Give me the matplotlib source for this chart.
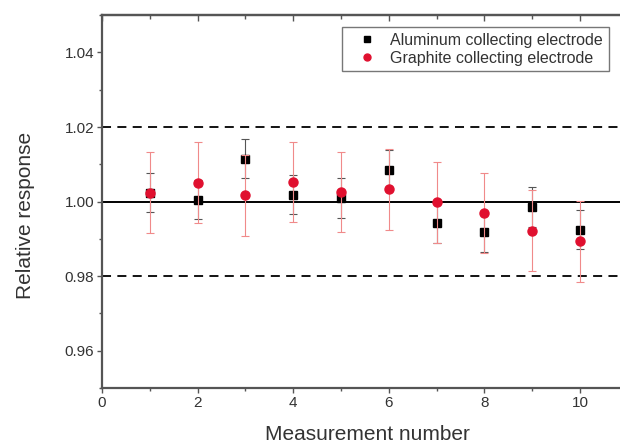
import numpy as np
import matplotlib
matplotlib.use("Agg")
import matplotlib.pyplot as plt
from matplotlib.ticker import MultipleLocator, FormatStrFormatter
from matplotlib.lines import Line2D

plt.rcParams['font.family'] = ['Liberation Sans', 'DejaVu Sans']

measurement = [1, 2, 3, 4, 5, 6, 7, 8, 9, 10]
aluminum = [1.0024, 1.0005, 1.0115, 1.0019, 1.0010, 1.0085, 0.9943, 0.9918, 0.9985, 0.9925]
aluminum_err = [0.0053, 0.0053, 0.0053, 0.0053, 0.0053, 0.0053, 0.0053, 0.0053, 0.0053, 0.0053]
graphite = [1.0024, 1.0051, 1.0017, 1.0053, 1.0026, 1.0033, 0.9998, 0.9969, 0.9922, 0.9893]
graphite_err = [0.0108, 0.0108, 0.0108, 0.0108, 0.0108, 0.0108, 0.0108, 0.0108, 0.0108, 0.0108]
series_names = ['Aluminum collecting electrode', 'Graphite collecting electrode']

reference_level = 1.00
tolerance = 0.02

TEXT = '#333333'
SPINE = '#555555'
RED = '#e0102f'

fig = plt.figure(figsize=(6.2, 4.46), dpi=100)
# axes runs slightly past the right edge of the figure, like the cropped original
ax = fig.add_axes([0.1645, 0.130, 0.848, 0.836])

# reference lines
ax.axhline(reference_level, color='black', lw=1.4, zorder=1)
ax.axhline(reference_level + tolerance, color='black', lw=1.3, ls=(0, (5, 3.5)), zorder=1)
ax.axhline(reference_level - tolerance, color='black', lw=1.3, ls=(0, (5, 3.5)), zorder=1)

ax.errorbar(measurement, aluminum, yerr=aluminum_err, fmt='s', color='black',
            ms=5.5, ecolor='#555555', elinewidth=0.8, capsize=3, capthick=0.8, zorder=3)
ax.errorbar(measurement, graphite, yerr=graphite_err, fmt='o', color=RED,
            ms=6.5, ecolor='#f08a8a', elinewidth=0.8, capsize=3, capthick=0.8, zorder=4)

ax.set_xlim(0, 11)
ax.set_ylim(0.95, 1.05)
ax.xaxis.set_major_locator(MultipleLocator(2))
ax.xaxis.set_minor_locator(MultipleLocator(1))
ax.yaxis.set_major_locator(MultipleLocator(0.02))
ax.yaxis.set_minor_locator(MultipleLocator(0.01))
ax.yaxis.set_major_formatter(FormatStrFormatter('%.2f'))

for side in ['left', 'bottom', 'top']:
    ax.spines[side].set_color(SPINE)
    ax.spines[side].set_linewidth(1.6)
ax.spines['right'].set_visible(False)

ax.tick_params(axis='both', which='major', direction='out', length=3.5, width=1,
               color=SPINE, labelsize=11, labelcolor=TEXT, pad=2)
ax.tick_params(axis='both', which='minor', direction='out', length=2.5, width=1, color=SPINE)

# ticks on the top spine point inwards
top = ax.secondary_xaxis('top')
top.xaxis.set_major_locator(MultipleLocator(2))
top.xaxis.set_minor_locator(MultipleLocator(1))
top.tick_params(which='major', direction='in', length=4, width=1, color=SPINE, labeltop=False)
top.tick_params(which='minor', direction='in', length=3, width=1, color=SPINE)
top.spines['top'].set_color(SPINE)
top.spines['top'].set_linewidth(1.6)

ax.set_xlabel('Measurement number', fontsize=15, color=TEXT)
ax.set_ylabel('Relative response', fontsize=15, color=TEXT)
ax.xaxis.set_label_coords(0.504, -0.099)
ax.yaxis.set_label_coords(-0.1275, 0.464)

handles = [
    Line2D([], [], ls='none', marker='s', color='black', ms=4.5),
    Line2D([], [], ls='none', marker='o', color=RED, ms=5),
]
leg = ax.legend(handles, series_names, loc='upper right',
                bbox_to_anchor=(0.964, 0.968), borderaxespad=0,
                fontsize=11.5, frameon=True, fancybox=False, framealpha=1,
                handlelength=2.4, handletextpad=0.3, borderpad=0.35, labelspacing=0.2)
leg.get_frame().set_edgecolor('#777777')
leg.get_frame().set_linewidth(1.0)
for t in leg.get_texts():
    t.set_color(TEXT)

fig.savefig('out.png', dpi=100)
